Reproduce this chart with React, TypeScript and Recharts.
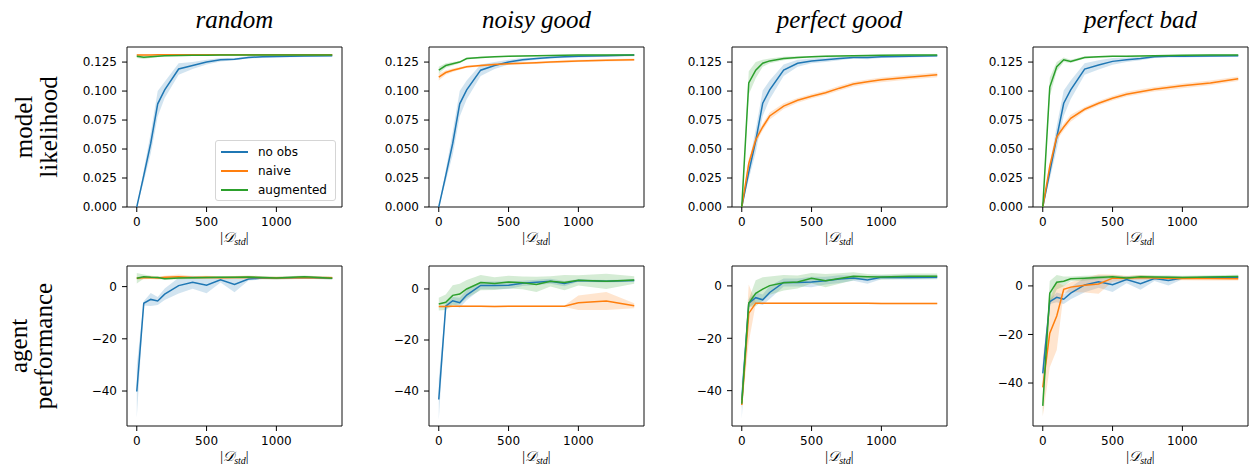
import React from "react";
import { ComposedChart, Line, Area, XAxis, YAxis, ReferenceArea } from "recharts";

// dataset sizes |D_std| on the x axis
const sizes = [0, 50, 100, 150, 200, 300, 400, 500, 600, 700, 800, 900, 1000, 1200, 1400];
const xTicks = [0, 500, 1000];
const likTicks = [0, 0.025, 0.05, 0.075, 0.1, 0.125];
const perfTicks = [-40, -20, 0];
const titles = ["random", "noisy good", "perfect good", "perfect bad"];
const seriesNames = ["no obs", "naive", "augmented"];
const colors = ["#1f77b4", "#ff7f0e", "#2ca02c"];

// model likelihood (mean and std)
const likRandomNoObs = [0, 0.027, 0.055, 0.089, 0.101, 0.119, 0.122, 0.125, 0.127, 0.1275, 0.129, 0.1295, 0.1298, 0.1302, 0.1305];
const likRandomNoObsSd = [0, 0.005, 0.009, 0.011, 0.007, 0.005, 0.003, 0.002, 0.0015, 0.001, 0.001, 0.001, 0.0008, 0.0008, 0.0008];
const likRandomNaive = [0.1312, 0.1312, 0.1312, 0.1313, 0.1313, 0.1313, 0.1314, 0.1314, 0.1314, 0.1314, 0.1314, 0.1314, 0.1314, 0.1314, 0.1314];
const likRandomNaiveSd = [0.0005, 0.0005, 0.0005, 0.0005, 0.0005, 0.0005, 0.0005, 0.0005, 0.0005, 0.0005, 0.0005, 0.0005, 0.0005, 0.0005, 0.0005];
const likRandomAug = [0.13, 0.1292, 0.1296, 0.13, 0.1304, 0.1306, 0.1308, 0.1309, 0.131, 0.131, 0.1311, 0.1311, 0.1312, 0.1312, 0.1312];
const likRandomAugSd = [0.0015, 0.0015, 0.001, 0.0008, 0.0006, 0.0005, 0.0005, 0.0005, 0.0005, 0.0005, 0.0005, 0.0005, 0.0005, 0.0005, 0.0005];

const likNoisyNoObs = [0, 0.027, 0.055, 0.089, 0.101, 0.118, 0.122, 0.125, 0.127, 0.128, 0.129, 0.1295, 0.13, 0.1305, 0.131];
const likNoisyNoObsSd = [0, 0.005, 0.01, 0.011, 0.008, 0.005, 0.003, 0.002, 0.0015, 0.001, 0.001, 0.001, 0.001, 0.001, 0.001];
const likNoisyNaive = [0.112, 0.116, 0.118, 0.1195, 0.121, 0.122, 0.123, 0.1235, 0.124, 0.1245, 0.125, 0.1255, 0.126, 0.1265, 0.127];
const likNoisyNaiveSd = [0.003, 0.002, 0.0015, 0.0012, 0.001, 0.001, 0.001, 0.001, 0.001, 0.001, 0.001, 0.001, 0.001, 0.001, 0.001];
const likNoisyAug = [0.118, 0.122, 0.1235, 0.125, 0.128, 0.129, 0.1295, 0.13, 0.1303, 0.1305, 0.1307, 0.1308, 0.131, 0.131, 0.131];
const likNoisyAugSd = [0.003, 0.002, 0.0015, 0.001, 0.0008, 0.0007, 0.0006, 0.0005, 0.0005, 0.0005, 0.0005, 0.0005, 0.0005, 0.0005, 0.0005];

const likGoodNoObs = [0, 0.03, 0.057, 0.0895, 0.101, 0.118, 0.124, 0.126, 0.127, 0.128, 0.129, 0.129, 0.1295, 0.13, 0.1305];
const likGoodNoObsSd = [0, 0.006, 0.01, 0.011, 0.008, 0.005, 0.003, 0.002, 0.002, 0.0015, 0.001, 0.0015, 0.001, 0.001, 0.001];
const likGoodNaive = [0, 0.0375, 0.058, 0.069, 0.0785, 0.087, 0.092, 0.0955, 0.0985, 0.1025, 0.106, 0.108, 0.1097, 0.112, 0.114];
const likGoodNaiveSd = [0, 0.004, 0.003, 0.003, 0.003, 0.0025, 0.002, 0.002, 0.002, 0.002, 0.002, 0.002, 0.002, 0.002, 0.002];
const likGoodAug = [0, 0.107, 0.118, 0.124, 0.126, 0.128, 0.129, 0.1295, 0.13, 0.1303, 0.1305, 0.1306, 0.1308, 0.131, 0.131];
const likGoodAugSd = [0, 0.01, 0.007, 0.003, 0.002, 0.0015, 0.001, 0.0008, 0.0006, 0.0005, 0.0005, 0.0005, 0.0005, 0.0005, 0.0005];

const likBadNoObs = [0, 0.03, 0.06, 0.0895, 0.101, 0.119, 0.1225, 0.1256, 0.127, 0.128, 0.1295, 0.13, 0.13, 0.1303, 0.1305];
const likBadNoObsSd = [0, 0.006, 0.01, 0.011, 0.008, 0.005, 0.004, 0.003, 0.002, 0.0015, 0.001, 0.001, 0.001, 0.001, 0.001];
const likBadNaive = [0, 0.035, 0.0606, 0.069, 0.0765, 0.0843, 0.0895, 0.0938, 0.0973, 0.0995, 0.1016, 0.103, 0.1045, 0.107, 0.1106];
const likBadNaiveSd = [0, 0.004, 0.003, 0.003, 0.003, 0.002, 0.002, 0.002, 0.002, 0.002, 0.002, 0.002, 0.002, 0.002, 0.002];
const likBadAug = [0, 0.1034, 0.121, 0.127, 0.1256, 0.129, 0.1295, 0.13, 0.13, 0.1303, 0.1305, 0.1306, 0.1308, 0.131, 0.131];
const likBadAugSd = [0, 0.008, 0.004, 0.002, 0.0015, 0.001, 0.0008, 0.0006, 0.0005, 0.0005, 0.0005, 0.0005, 0.0005, 0.0005, 0.0005];

// agent performance (mean and std)
const perfRandomNoObs = [-40.2, -6.4, -4.9, -5.5, -2.9, 0.4, 1.7, 0.5, 2.6, 0.8, 2.9, 3.3, 3.2, 3.5, 3.2];
const perfRandomNoObsSd = [10, 0.8, 2.5, 1.5, 2.2, 3, 2.5, 3, 1, 3, 0.6, 0.5, 0.5, 0.5, 0.5];
const perfRandomNaive = [3.2, 3.4, 3.5, 3.3, 3.6, 3.8, 3.5, 3.6, 3.4, 3.5, 3.6, 3.4, 3.3, 3.5, 3.4];
const perfRandomNaiveSd = [0.6, 0.6, 0.6, 0.6, 0.6, 0.8, 0.6, 0.6, 0.6, 0.6, 0.6, 0.6, 0.6, 0.6, 0.6];
const perfRandomAug = [3.2, 3.8, 3.6, 3.5, 3.0, 3.3, 3.4, 3.5, 3.6, 3.6, 3.7, 3.5, 3.3, 3.8, 3.2];
const perfRandomAugSd = [2, 0.8, 0.6, 0.5, 0.5, 0.5, 0.5, 0.5, 0.5, 0.5, 0.5, 0.5, 0.5, 0.5, 0.5];

const perfNoisyNoObs = [-43.3, -6.7, -4.6, -5.4, -2.4, 1.4, 1.4, 1.5, 2.2, 2.6, 3.0, 2.1, 3.3, 3.0, 3.3];
const perfNoisyNoObsSd = [8, 1, 1.5, 2, 2, 1.5, 1.5, 1.5, 1, 1, 1, 1, 0.5, 0.5, 0.5];
const perfNoisyNaive = [-6.9, -6.9, -6.8, -6.8, -6.8, -6.8, -6.9, -6.8, -6.8, -6.8, -6.8, -6.8, -5.4, -4.7, -6.6];
const perfNoisyNaiveSd = [0.3, 0.3, 0.3, 0.3, 0.3, 0.3, 0.3, 0.3, 0.3, 0.3, 0.3, 0.3, 2.8, 3.5, 1];
const perfNoisyAug = [-5.9, -5.2, -2.5, -2.0, 0.0, 2.5, 2.1, 2.7, 2.4, 1.8, 3.0, 2.5, 3.4, 3.0, 3.5];
const perfNoisyAugSd = [2.5, 3, 4, 4, 3.5, 3, 2.5, 2.5, 2.5, 3, 2, 3, 2, 3, 1.5];

const perfGoodNoObs = [-43.6, -6.6, -4.5, -5.3, -2.5, 1.3, 1.3, 1.5, 2.0, 2.6, 3.0, 2.3, 3.3, 3.2, 3.3];
const perfGoodNoObsSd = [7, 1.5, 2, 2, 2.5, 1.5, 1.5, 2, 1.5, 1.5, 1, 1.5, 0.8, 0.8, 0.8];
const perfGoodNaive = [-45.5, -10.5, -6.6, -6.6, -6.6, -6.6, -6.6, -6.6, -6.6, -6.6, -6.6, -6.6, -6.7, -6.7, -6.7];
const perfGoodNaiveSd = [1.5, 11, 0.3, 0.3, 0.3, 0.3, 0.3, 0.3, 0.3, 0.3, 0.3, 0.3, 0.3, 0.3, 0.3];
const perfGoodAug = [-45, -6.6, -2.8, -1.2, 0.1, 1.2, 1.5, 2.9, 2.0, 2.8, 3.7, 3.5, 3.4, 3.7, 3.7];
const perfGoodAugSd = [1.5, 1.5, 5, 4.5, 3.5, 3, 2.5, 2, 2.5, 2, 1.5, 1, 1, 1, 1];

const perfBadNoObs = [-36, -6.5, -4.7, -5.5, -3, 0.4, 1.7, 0.5, 2.6, 0.9, 3.0, 2.2, 3.3, 3.5, 3.6];
const perfBadNoObsSd = [4, 1, 2, 2, 2.5, 3, 2.5, 3, 1.5, 2.5, 1, 2, 0.6, 0.6, 0.6];
const perfBadNaive = [-41.8, -19.5, -12.4, -1.4, -0.5, 0.3, 0.8, 3.2, 3.2, 3.5, 3.3, 3.2, 3.1, 3.0, 3.0];
const perfBadNaiveSd = [12, 14, 14, 1.5, 2, 3, 4, 1.5, 1, 1, 0.8, 0.8, 0.8, 0.8, 0.8];
const perfBadAug = [-49.4, -3.0, 1.5, 1.9, 2.9, 3.2, 3.5, 3.8, 3.3, 3.8, 3.7, 3.6, 3.5, 3.7, 3.9];
const perfBadAugSd = [4, 5, 3, 2, 1, 1, 0.8, 0.7, 0.7, 0.7, 0.7, 0.7, 0.7, 0.7, 0.7];

const likDomain: [number, number] = [0, 0.138];
const perfDomains: [number, number][] = [[-53.4, 7.9], [-53.7, 9.0], [-53.5, 7.6], [-57.7, 8.2]];

const likPanels = [
  { means: [likRandomNoObs, likRandomNaive, likRandomAug], sds: [likRandomNoObsSd, likRandomNaiveSd, likRandomAugSd] },
  { means: [likNoisyNoObs, likNoisyNaive, likNoisyAug], sds: [likNoisyNoObsSd, likNoisyNaiveSd, likNoisyAugSd] },
  { means: [likGoodNoObs, likGoodNaive, likGoodAug], sds: [likGoodNoObsSd, likGoodNaiveSd, likGoodAugSd] },
  { means: [likBadNoObs, likBadNaive, likBadAug], sds: [likBadNoObsSd, likBadNaiveSd, likBadAugSd] },
];
const perfPanels = [
  { means: [perfRandomNoObs, perfRandomNaive, perfRandomAug], sds: [perfRandomNoObsSd, perfRandomNaiveSd, perfRandomAugSd] },
  { means: [perfNoisyNoObs, perfNoisyNaive, perfNoisyAug], sds: [perfNoisyNoObsSd, perfNoisyNaiveSd, perfNoisyAugSd] },
  { means: [perfGoodNoObs, perfGoodNaive, perfGoodAug], sds: [perfGoodNoObsSd, perfGoodNaiveSd, perfGoodAugSd] },
  { means: [perfBadNoObs, perfBadNaive, perfBadAug], sds: [perfBadNoObsSd, perfBadNaiveSd, perfBadAugSd] },
];

const PLOT_LEFTS = [127, 429, 732, 1033];
const ROW_TOPS = [47, 266];
const PW = 215;
const PH = 160;
const YW = 60;
const XH = 45;
const keys = ["noObs", "naive", "aug"];
const tickFont = { fontFamily: "DejaVu Sans", fontSize: 12, fill: "#000" };

const fmtLik = (v: number) => v.toFixed(3);
const fmtPerf = (v: number) => (v < 0 ? "\u2212" + Math.abs(v) : String(v));

const DLabel = (props: any) => {
  const vb = props.viewBox || {};
  const cx = vb.x + vb.width / 2;
  const y = vb.y + 35;
  return (
    <text x={cx} y={y} textAnchor="middle" fontFamily="Liberation Serif" fontSize={14} fill="#000">
      |<tspan fontStyle="italic">𝒟</tspan>
      <tspan fontStyle="italic" fontSize={10} dy={3}>std</tspan>
      <tspan dy={-3}>|</tspan>
    </text>
  );
};

function Panel({ means, sds, domain, ticks, fmt, left, top }: any) {
  const data = sizes.map((x, i) => {
    const row: any = { x };
    keys.forEach((k, s) => {
      row[k] = means[s][i];
      row[k + "Band"] = [means[s][i] - sds[s][i], means[s][i] + sds[s][i]];
    });
    return row;
  });
  return (
    <div style={{ position: "absolute", left: left - YW, top: top - 1 }}>
      <ComposedChart width={YW + PW + 1} height={1 + PH + XH} data={data} margin={{ top: 1, right: 1, bottom: 0, left: 0 }}>
        <XAxis
          dataKey="x"
          type="number"
          domain={[-70, 1470]}
          ticks={xTicks}
          allowDataOverflow
          height={XH}
          tickSize={5}
          tickMargin={5}
          tick={tickFont}
          tickLine={{ stroke: "#000" }}
          axisLine={false}
          label={<DLabel />}
        />
        <YAxis
          type="number"
          domain={domain}
          ticks={ticks}
          allowDataOverflow
          width={YW}
          tickSize={5}
          tickMargin={5}
          tick={tickFont}
          tickLine={{ stroke: "#000" }}
          axisLine={false}
          tickFormatter={fmt}
        />
        {keys.map((k, s) => (
          <Area
            key={k + "Band"}
            dataKey={k + "Band"}
            type="linear"
            stroke="none"
            fill={colors[s]}
            fillOpacity={0.2}
            isAnimationActive={false}
          />
        ))}
        {keys.map((k, s) => (
          <Line
            key={k}
            dataKey={k}
            type="linear"
            stroke={colors[s]}
            strokeWidth={1.5}
            dot={false}
            isAnimationActive={false}
          />
        ))}
        <ReferenceArea x1={-70} x2={1470} y1={domain[0]} y2={domain[1]} fill="none" stroke="#111" strokeWidth={1} ifOverflow="visible" />
      </ComposedChart>
    </div>
  );
}

const serif = "Liberation Serif";

export default function App() {
  return (
    <div style={{ position: "absolute", left: 0, top: 0, width: 1250, height: 466, background: "#fff", overflow: "hidden" }}>
      <svg width={1250} height={466} style={{ position: "absolute", left: 0, top: 0 }}>
        {titles.map((t, i) => (
          <text key={t} x={PLOT_LEFTS[i] + PW / 2} y={28} textAnchor="middle" fontFamily={serif} fontStyle="italic" fontSize={25} fill="#000">
            {t}
          </text>
        ))}
        <text transform="translate(32,127) rotate(-90)" textAnchor="middle" fontFamily={serif} fontSize={25} fill="#000">model</text>
        <text transform="translate(57,127) rotate(-90)" textAnchor="middle" fontFamily={serif} fontSize={25} fill="#000">likelihood</text>
        <text transform="translate(27,346) rotate(-90)" textAnchor="middle" fontFamily={serif} fontSize={25} fill="#000">agent</text>
        <text transform="translate(52,346) rotate(-90)" textAnchor="middle" fontFamily={serif} fontSize={25} fill="#000">performance</text>
      </svg>
      {likPanels.map((p, i) => (
        <Panel key={"lik" + i} means={p.means} sds={p.sds} domain={likDomain} ticks={likTicks} fmt={fmtLik} left={PLOT_LEFTS[i]} top={ROW_TOPS[0]} />
      ))}
      {perfPanels.map((p, i) => (
        <Panel key={"perf" + i} means={p.means} sds={p.sds} domain={perfDomains[i]} ticks={perfTicks} fmt={fmtPerf} left={PLOT_LEFTS[i]} top={ROW_TOPS[1]} />
      ))}
      <div
        style={{
          position: "absolute",
          left: 215,
          top: 140,
          width: 119,
          height: 59,
          border: "1px solid #d5d5d5",
          borderRadius: 3,
          background: "rgba(255,255,255,0.8)",
          fontFamily: "DejaVu Sans",
          fontSize: 12,
          color: "#000",
        }}
      >
        {seriesNames.map((n, s) => (
          <div key={n} style={{ position: "absolute", left: 5, top: 3 + s * 19, height: 16, display: "flex", alignItems: "center" }}>
            <div style={{ width: 27, height: 0, borderTop: `2px solid ${colors[s]}`, marginRight: 10 }} />
            <span>{n}</span>
          </div>
        ))}
      </div>
    </div>
  );
}
